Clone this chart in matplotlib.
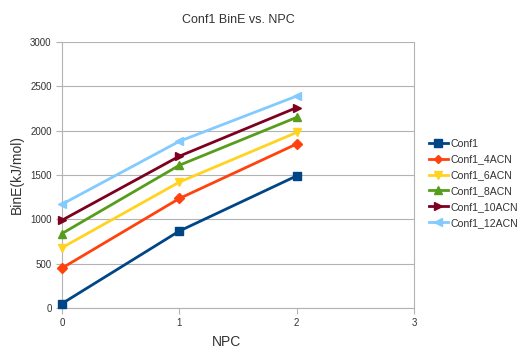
import matplotlib
matplotlib.use("Agg")
import matplotlib.pyplot as plt

plt.rcParams["font.family"] = ["Liberation Sans", "DejaVu Sans"]

npc = [0, 1, 2]
series_names = ["Conf1", "Conf1_4ACN", "Conf1_6ACN", "Conf1_8ACN", "Conf1_10ACN", "Conf1_12ACN"]
conf1 = [50, 868, 1490]
conf1_4acn = [450, 1235, 1850]
conf1_6acn = [680, 1420, 1980]
conf1_8acn = [840, 1610, 2150]
conf1_10acn = [990, 1712, 2260]
conf1_12acn = [1170, 1880, 2390]
y_ticks = [0, 500, 1000, 1500, 2000, 2500, 3000]
x_ticks = [0, 1, 2, 3]

colors = ["#004586", "#ff420e", "#ffd320", "#579d1c", "#7e0021", "#83caff"]
markers = ["s", "D", "v", "^", ">", "<"]
msizes = [6, 5, 6, 6, 6, 6]

fig = plt.figure(figsize=(5.2, 3.51), dpi=100)
ax = fig.add_axes([62 / 520, 43 / 351, 352 / 520, 266 / 351])

for name, vals, c, m, ms in zip(series_names,
                                [conf1, conf1_4acn, conf1_6acn, conf1_8acn, conf1_10acn, conf1_12acn],
                                colors, markers, msizes):
    ax.plot(npc, vals, color=c, marker=m, markersize=ms, linewidth=2, label=name,
            clip_on=False, zorder=3)

ax.set_xlim(0, 3)
ax.set_ylim(0, 3000)
ax.set_xticks(x_ticks)
ax.set_yticks(y_ticks)
ax.yaxis.grid(True, color="#b3b3b3", linewidth=0.8)
ax.set_axisbelow(True)
for side in ["left", "right", "bottom"]:
    ax.spines[side].set_color("#b3b3b3")
    ax.spines[side].set_linewidth(0.8)
ax.spines["top"].set_visible(False)
ax.tick_params(axis="both", colors="#b3b3b3", labelcolor="#333333", labelsize=7,
               length=4, width=0.8)

ax.set_title("Conf1 BinE vs. NPC", fontsize=9, color="#333333", pad=14)
ax.set_xlabel("NPC", fontsize=10, color="#333333")
ax.set_ylabel("BinE(kJ/mol)", fontsize=10, color="#333333")
ax.xaxis.set_label_coords(164 / 352, -27 / 266)
ax.yaxis.set_label_coords(-38 / 352, 0.5)

leg = ax.legend(loc="upper left", bbox_to_anchor=(1.012, 0.676), frameon=False,
                fontsize=7.6, handlelength=1.8, handletextpad=0.3, labelspacing=0.55,
                borderaxespad=0.6, markerscale=0.85)
for t in leg.get_texts():
    t.set_color("#333333")

fig.savefig("out.png", dpi=100)
